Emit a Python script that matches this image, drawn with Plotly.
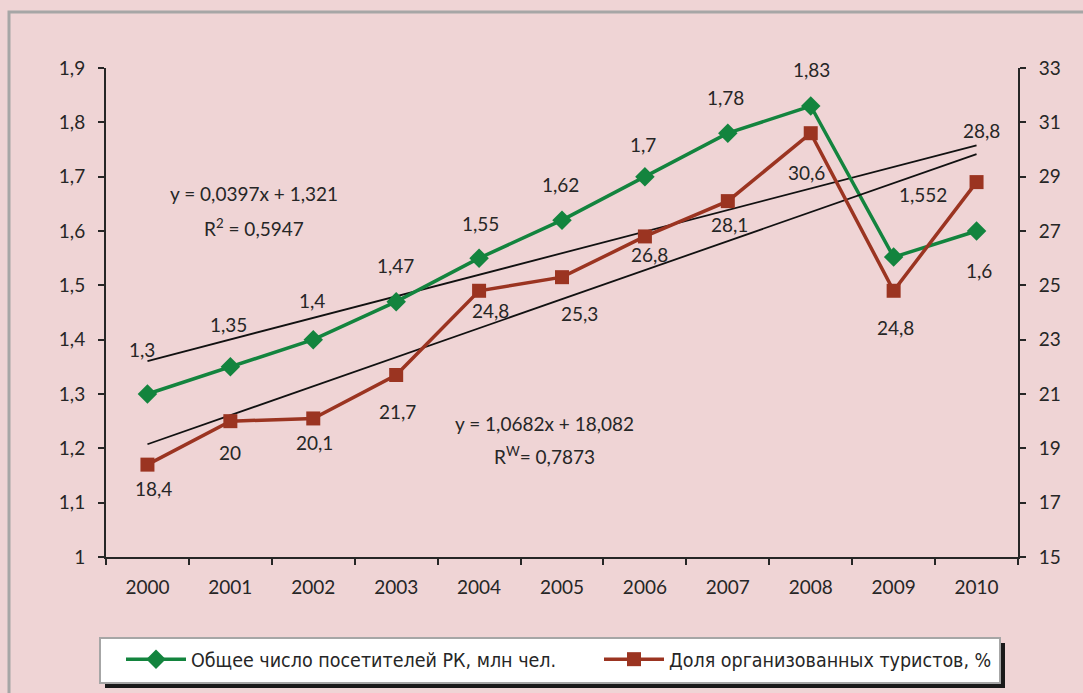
import plotly.graph_objects as go

# ---------------- data ----------------
years = ["2000", "2001", "2002", "2003", "2004", "2005", "2006", "2007", "2008", "2009", "2010"]
visitors = [1.3, 1.35, 1.4, 1.47, 1.55, 1.62, 1.7, 1.78, 1.83, 1.552, 1.6]          # млн чел.
organized_share = [18.4, 20, 20.1, 21.7, 24.8, 25.3, 26.8, 28.1, 30.6, 24.8, 28.8]   # %
visitors_labels = ["1,3", "1,35", "1,4", "1,47", "1,55", "1,62", "1,7", "1,78", "1,83", "1,552", "1,6"]
share_labels = ["18,4", "20", "20,1", "21,7", "24,8", "25,3", "26,8", "28,1", "30,6", "24,8", "28,8"]

# linear trend coefficients as shown on the chart (y = a*x + b, x = 1..11)
trend_visitors = (0.0397, 1.321)
trend_share = (1.0682, 18.082)
eq_visitors = ["y = 0,0397x + 1,321", "R<sup>2</sup> = 0,5947"]
eq_share = ["y = 1,0682x + 18,082", "R<sup>W</sup>= 0,7873"]

name_visitors = "Общее число посетителей РК, млн чел."
name_share = "Доля организованных туристов, %"

# ---------------- style / layout ----------------
W, H = 1083, 693
L, R, T, B = 106, 1018, 68, 557
BG = "#EFD4D5"
GREEN = "#13843E"
RED = "#9B3421"
TXT = "#262626"
FONT = "Lato, 'Open Sans', sans-serif"
LEGFONT = "'Liberation Sans Narrow', 'DejaVu Sans Condensed', Roboto, sans-serif"
FS = 19

# label offsets in px (dx right, dy down)
off_visitors = [(-5, -45), (-2, -42), (-1, -39), (-1, -36), (1, -35), (-2, -36),
                (-2, -32), (-2, -36), (1, -37), (29, -63), (2, 39)]
off_share = [(6, 24), (0, 31), (1, 24), (1, 37), (11, 20), (17, 36),
             (5, 18), (2, 23), (-4, 39), (2, 37), (5, -52)]


def px(xp):
    return (xp - L) / (R - L)


def py(yp):
    return (B - yp) / (B - T)


xs_idx = list(range(1, len(years) + 1))
tv = [trend_visitors[0] * i + trend_visitors[1] for i in xs_idx]
ts = [trend_share[0] * i + trend_share[1] for i in xs_idx]

fig = go.Figure()

fig.add_trace(go.Scatter(x=years, y=tv, mode="lines", line=dict(color="#111111", width=1.8),
                         showlegend=False, hoverinfo="skip", yaxis="y"))
fig.add_trace(go.Scatter(x=years, y=ts, mode="lines", line=dict(color="#111111", width=1.8),
                         showlegend=False, hoverinfo="skip", yaxis="y2"))

fig.add_trace(go.Scatter(x=years, y=visitors, name=name_visitors, mode="lines+markers",
                         line=dict(color=GREEN, width=3.5), legend="legend",
                         marker=dict(symbol="diamond", size=15, color=GREEN), yaxis="y"))
fig.add_trace(go.Scatter(x=years, y=organized_share, name=name_share, mode="lines+markers",
                         line=dict(color=RED, width=3.5), legend="legend2",
                         marker=dict(symbol="square", size=14, color=RED), yaxis="y2"))

annotations = []
for i, (v, lab, (dx, dy)) in enumerate(zip(visitors, visitors_labels, off_visitors)):
    annotations.append(dict(x=i, y=v, xref="x", yref="y", text=lab, showarrow=False,
                            xshift=dx, yshift=-dy, font=dict(family=FONT, size=FS, color=TXT)))
for i, (v, lab, (dx, dy)) in enumerate(zip(organized_share, share_labels, off_share)):
    annotations.append(dict(x=i, y=v, xref="x", yref="y2", text=lab, showarrow=False,
                            xshift=dx, yshift=-dy, font=dict(family=FONT, size=FS, color=TXT)))

for (cx, cy), txt in zip([(254, 194), (254, 227)] + [(544, 423), (544, 455)],
                         eq_visitors + eq_share):
    annotations.append(dict(x=px(cx), y=py(cy), xref="paper", yref="paper", text=txt,
                            xanchor="center", yanchor="middle",
                            showarrow=False, font=dict(family=FONT, size=FS, color=TXT)))

shapes = [
    # outer chart border
    dict(type="rect", xref="paper", yref="paper", x0=px(9), x1=px(1110), y0=py(12), y1=py(720),
         line=dict(color="#A6A6A6", width=3), fillcolor="rgba(0,0,0,0)", layer="below"),
    # legend shadow
    dict(type="rect", xref="paper", yref="paper", x0=px(105), x1=px(1005), y0=py(643), y1=py(688),
         line=dict(width=0), fillcolor="#1A1A1A", layer="above"),
    # legend box
    dict(type="rect", xref="paper", yref="paper", x0=px(100), x1=px(1000), y0=py(638), y1=py(683),
         line=dict(color="#A6A6A6", width=2), fillcolor="white", layer="above"),
]

axis_common = dict(showline=True, linecolor=TXT, linewidth=2, ticks="outside", ticklen=6,
                   tickwidth=2, tickcolor=TXT, showgrid=False, zeroline=False,
                   tickfont=dict(family=FONT, size=FS, color=TXT))

legend_common = dict(orientation="h", xref="container", yref="container",
                     y=1 - 640 / H, xanchor="left", yanchor="top",
                     bgcolor="rgba(0,0,0,0)", borderwidth=0,
                     font=dict(family=LEGFONT, size=19.5, color=TXT), itemwidth=60)

fig.update_layout(
    width=W, height=H,
    margin=dict(l=L, r=W - R, t=T, b=H - B, pad=0),
    paper_bgcolor=BG, plot_bgcolor=BG,
    separators=", ",
    xaxis=dict(type="category", categoryorder="array", categoryarray=years,
               range=[-0.5, len(years) - 0.5], tickson="boundaries",
               ticklabelstandoff=12, **axis_common),
    yaxis=dict(range=[1, 1.9], dtick=0.1, tick0=1, ticklabelstandoff=9, **axis_common),
    yaxis2=dict(range=[15, 33], dtick=2, tick0=15, overlaying="y", side="right",
                ticklabelstandoff=9, **axis_common),
    showlegend=True,
    legend=dict(x=121 / W, **legend_common),
    legend2=dict(x=599 / W, **legend_common),
    annotations=annotations,
    shapes=shapes,
)

fig.write_html("out.html", config={"displayModeBar": False},
               post_script="document.body.style.margin='0';document.body.style.overflow='hidden';")
